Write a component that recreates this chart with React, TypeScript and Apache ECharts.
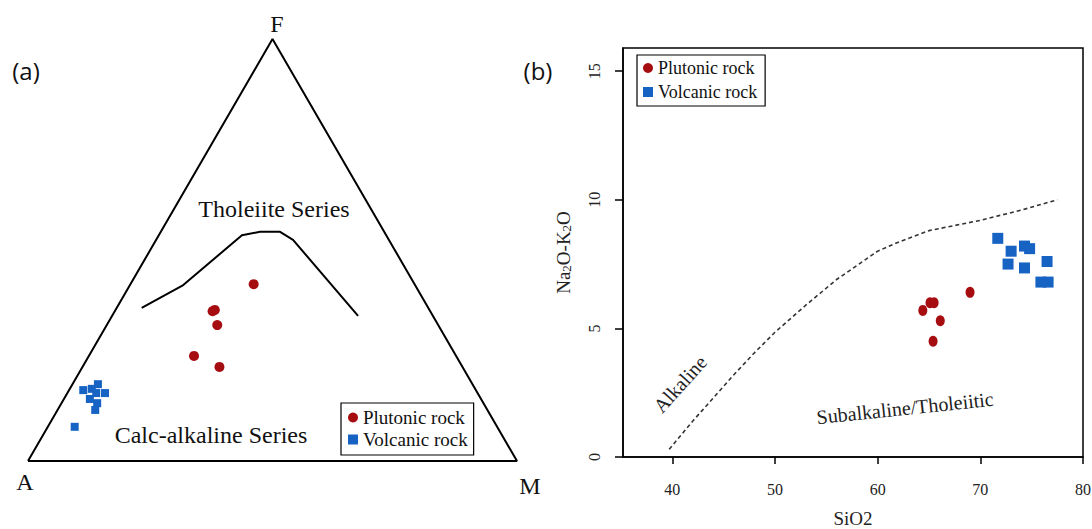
import React, { useEffect, useRef } from "react";
import * as echarts from "echarts";

// ---------- (a) AFM ternary data, stored as [A, F, M] percentages ----------
const triangleAFM: number[][] = [
  [100, 0, 0],
  [0, 100, 0],
  [0, 0, 100],
  [100, 0, 0],
];
const boundaryAFM: number[][] = [
  [58.6, 36.3, 5.1],
  [47.4, 41.7, 10.9],
  [29.5, 53.5, 17.0],
  [25.4, 54.3, 20.3],
  [21.3, 54.3, 24.4],
  [19.6, 52.4, 28.0],
  [15.3, 34.4, 50.3],
];
const plutonicAFM: number[][] = [
  [32.9, 41.9, 25.2],
  [43.9, 35.8, 20.3],
  [44.5, 35.5, 20.0],
  [45.2, 32.2, 22.6],
  [53.6, 24.9, 21.5],
  [49.7, 22.3, 28.0],
];
const volcanicAFM: number[][] = [
  [80.3, 16.8, 2.9],
  [78.4, 17.1, 4.5],
  [76.6, 18.2, 5.2],
  [76.2, 16.1, 7.7],
  [78.0, 16.1, 5.9],
  [80.0, 14.7, 5.3],
  [79.0, 13.7, 7.3],
  [80.2, 12.1, 7.7],
  [86.4, 8.1, 5.5],
];

// ---------- (b) TAS data ----------
const plutonicSiO2 = [64.4, 65.1, 65.5, 66.1, 65.4, 69.0];
const plutonicAlk = [5.7, 6.0, 6.0, 5.3, 4.5, 6.4];
const volcanicSiO2 = [71.7, 73.0, 72.7, 74.3, 74.8, 74.3, 76.5, 75.9, 76.6];
const volcanicAlk = [8.5, 8.0, 7.5, 8.2, 8.1, 7.35, 7.6, 6.8, 6.8];
const divideSiO2 = [39.7, 42, 44, 46, 48, 50, 53, 56, 60, 62, 65, 70, 74, 77.5];
const divideAlk = [0.3, 1.4, 2.3, 3.2, 4.05, 4.85, 5.9, 6.9, 8.0, 8.35, 8.8, 9.2, 9.6, 10.0];
const xTicks = [40, 50, 60, 70, 80];
const yTicks = [0, 5, 10, 15];

const SQ = 0.866;
const toXY = (p: number[]) => {
  const s = p[0] + p[1] + p[2];
  const f = p[1] / s;
  const m = p[2] / s;
  return [m + f / 2, f * SQ];
};
const zip = (a: number[], b: number[]) => a.map((v, i) => [v, b[i]]);

const SERIF = "Liberation Serif";
const RED = "#a50d10";
const BLUE = "#1763c4";
const serifRich = (size: number, color = "#222") => ({
  t: { fontFamily: SERIF, fontSize: size, color },
});

export default function App() {
  const ref = useRef<HTMLDivElement>(null);
  useEffect(() => {
    document.body.style.margin = "0";
    const chart = echarts.init(ref.current!, null, { renderer: "svg" });
    const legendBase = {
      orient: "vertical",
      borderColor: "#000",
      borderWidth: 1.2,
      backgroundColor: "#fff",
      itemWidth: 10,
      itemHeight: 10,
      data: ["Plutonic rock", "Volcanic rock"],
      selectedMode: false,
      formatter: (name: string) => `{t|${name}}`,
    };
    chart.setOption({
      animation: false,
      backgroundColor: "#fff",
      textStyle: { fontFamily: SERIF },
      legend: [
        {
          ...legendBase,
          left: 341,
          top: 403,
          padding: [5, 6, 6, 7],
          itemGap: 3,
          itemTextGap: 9,
          textStyle: { fontFamily: SERIF, fontSize: 19, color: "#111", rich: serifRich(19, "#111") },
        },
        {
          ...legendBase,
          left: 637,
          top: 55,
          padding: [4, 8, 5, 6],
          itemGap: 6,
          itemTextGap: 6,
          textStyle: { fontFamily: SERIF, fontSize: 18, color: "#111", rich: serifRich(18, "#111") },
        },
      ],
      grid: [
        { left: 28, top: 39, width: 489, height: 422, outerBoundsMode: "none", containLabel: false },
        {
          left: 623,
          top: 48,
          right: 9,
          bottom: 72,
          show: true,
          borderColor: "#000",
          borderWidth: 1.5,
          outerBoundsMode: "none",
          containLabel: false,
        },
      ],
      xAxis: [
        { gridIndex: 0, type: "value", min: 0, max: 1, show: false },
        {
          gridIndex: 1,
          type: "value",
          min: 35.2,
          max: 80,
          splitLine: { show: false },
          axisLine: { lineStyle: { color: "#000", width: 1.5 } },
          axisTick: { show: true, length: 7, customValues: xTicks, lineStyle: { color: "#000", width: 1.5 } },
          axisLabel: {
            customValues: xTicks,
            margin: 24,
            fontFamily: SERIF,
            fontSize: 16,
            formatter: (v: number) => `{t|${v}}`,
            rich: serifRich(16),
          },
          name: "{t|SiO2}",
          nameLocation: "middle",
          nameGap: 52,
          nameTextStyle: { fontFamily: SERIF, fontSize: 19, rich: serifRich(19) },
        },
      ],
      yAxis: [
        { gridIndex: 0, type: "value", min: 0, max: SQ, show: false },
        {
          gridIndex: 1,
          type: "value",
          min: 0,
          max: 15.9,
          splitLine: { show: false },
          axisLine: { lineStyle: { color: "#000", width: 1.5 } },
          axisTick: { show: true, length: 8, customValues: yTicks, lineStyle: { color: "#000", width: 1.5 } },
          axisLabel: {
            customValues: yTicks,
            rotate: 90,
            margin: 21,
            fontFamily: SERIF,
            fontSize: 16,
            formatter: (v: number) => `{t|${v}}`,
            rich: serifRich(16),
          },
          name: "{n|Na}{s|2}{n|O-K}{s|2}{n|O}",
          nameLocation: "middle",
          nameGap: 50,
          nameTextStyle: {
            fontFamily: SERIF,
            color: "#222",
            rich: {
              n: { fontFamily: SERIF, fontSize: 19, color: "#222" },
              s: { fontFamily: SERIF, fontSize: 13, color: "#222", padding: [7, 0, 0, 0] },
            },
          },
        },
      ],
      series: [
        {
          type: "line",
          xAxisIndex: 0,
          yAxisIndex: 0,
          data: triangleAFM.map(toXY),
          symbol: "none",
          lineStyle: { color: "#000", width: 2 },
          silent: true,
        },
        {
          type: "line",
          xAxisIndex: 0,
          yAxisIndex: 0,
          data: boundaryAFM.map(toXY),
          symbol: "none",
          lineStyle: { color: "#000", width: 2 },
          silent: true,
        },
        {
          name: "Plutonic rock",
          type: "scatter",
          xAxisIndex: 0,
          yAxisIndex: 0,
          data: plutonicAFM.map(toXY),
          symbol: "circle",
          symbolSize: 10,
          itemStyle: { color: RED, opacity: 1 },
          z: 5,
        },
        {
          name: "Volcanic rock",
          type: "scatter",
          xAxisIndex: 0,
          yAxisIndex: 0,
          data: volcanicAFM.map(toXY),
          symbol: "rect",
          symbolSize: 8,
          itemStyle: { color: BLUE, opacity: 1 },
          z: 5,
        },
        {
          type: "line",
          xAxisIndex: 1,
          yAxisIndex: 1,
          data: zip(divideSiO2, divideAlk),
          symbol: "none",
          lineStyle: { color: "#333", width: 1.6, type: [4, 3] },
          silent: true,
        },
        {
          name: "Plutonic rock",
          type: "scatter",
          xAxisIndex: 1,
          yAxisIndex: 1,
          data: zip(plutonicSiO2, plutonicAlk),
          symbol: "circle",
          symbolSize: [9, 11],
          itemStyle: { color: RED, opacity: 1 },
          z: 5,
        },
        {
          name: "Volcanic rock",
          type: "scatter",
          xAxisIndex: 1,
          yAxisIndex: 1,
          data: zip(volcanicSiO2, volcanicAlk),
          symbol: "rect",
          symbolSize: 11,
          itemStyle: { color: BLUE, opacity: 1 },
          z: 5,
        },
      ],
      graphic: [
        { type: "text", x: 26, y: 70, style: { text: "(a)", font: "24px 'Open Sans'", fill: "#111", textAlign: "center", textVerticalAlign: "middle" } },
        { type: "text", x: 538, y: 70, style: { text: "(b)", font: "24px 'Open Sans'", fill: "#111", textAlign: "center", textVerticalAlign: "middle" } },
        { type: "text", x: 277, y: 24, style: { text: "F", font: `24px '${SERIF}'`, fill: "#111", textAlign: "center", textVerticalAlign: "middle" } },
        { type: "text", x: 25, y: 482, style: { text: "A", font: `24px '${SERIF}'`, fill: "#111", textAlign: "center", textVerticalAlign: "middle" } },
        { type: "text", x: 530, y: 486, style: { text: "M", font: `24px '${SERIF}'`, fill: "#111", textAlign: "center", textVerticalAlign: "middle" } },
        { type: "text", x: 274, y: 209, style: { text: "Tholeiite Series", font: `24px '${SERIF}'`, fill: "#111", textAlign: "center", textVerticalAlign: "middle" } },
        { type: "text", x: 211, y: 435, style: { text: "Calc-alkaline Series", font: `24px '${SERIF}'`, fill: "#111", textAlign: "center", textVerticalAlign: "middle" } },
        { type: "text", x: 680, y: 384, rotation: (48 * Math.PI) / 180, style: { text: "Alkaline", font: `20px '${SERIF}'`, fill: "#222", textAlign: "center", textVerticalAlign: "middle" } },
        { type: "text", x: 905, y: 408, rotation: (6 * Math.PI) / 180, style: { text: "Subalkaline/Tholeiitic", font: `20px '${SERIF}'`, fill: "#222", textAlign: "center", textVerticalAlign: "middle" } },
      ],
    });
    return () => chart.dispose();
  }, []);
  return <div ref={ref} style={{ position: "absolute", left: 0, top: 0, width: 1092, height: 529 }} />;
}
